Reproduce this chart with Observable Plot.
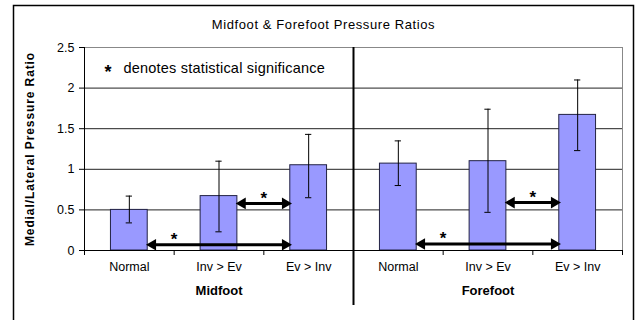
<!DOCTYPE html>
<html><head><meta charset="utf-8">
<script src="https://cdn.jsdelivr.net/npm/d3@7"></script>
<script src="https://cdn.jsdelivr.net/npm/@observablehq/plot@0.6"></script>
<style>body{margin:0;background:#fff}</style>
</head><body><div id="chart"></div>
<script>
const title = "Midfoot & Forefoot Pressure Ratios";
const yLabel = "Medial/Lateral Pressure Ratio";
const legendText = "denotes statistical significance";
const groups = ["Midfoot", "Forefoot"];
const categories = ["Normal", "Inv > Ev", "Ev > Inv"];
const means   = [0.50, 0.67, 1.05, 1.07, 1.10, 1.67];
const errLow  = [0.34, 0.23, 0.65, 0.80, 0.47, 1.23];
const errHigh = [0.67, 1.10, 1.43, 1.35, 1.74, 2.10];
const yTicks = [0, 0.5, 1, 1.5, 2, 2.5];
// significance comparisons: bar index from -> to, arrow level, star position (category units)
const compFrom = [0, 1, 3, 4];
const compTo   = [2, 2, 5, 5];
const compY    = [0.07, 0.58, 0.08, 0.59];
const compStar = [1.0, 2.0, 4.0, 5.0];

const halfW = 0.205, capHalf = 0.035;
const rows = means.map((m, i) => ({
  i, group: groups[Math.floor(i / categories.length)], cat: categories[i % categories.length],
  mean: m, lo: errLow[i], hi: errHigh[i]
}));
const comps = compFrom.map((f, k) => ({
  x1: f + 0.5 + halfW, x2: compTo[k] + 0.5 - halfW, y: compY[k], star: compStar[k]
}));
const nCat = rows.length;
const groupCenters = groups.map((g, j) => ({g, x: (j + 0.5) * categories.length}));

const font = "'Liberation Sans', Arial, sans-serif";
const chart = Plot.plot({
  width: 637, height: 320,
  marginLeft: 84, marginRight: 15, marginTop: 47, marginBottom: 70,
  style: {fontFamily: font, fontSize: "12px", color: "black", background: "white"},
  x: {type: "linear", domain: [0, nCat], axis: null},
  y: {domain: [0, 2.5], axis: null},
  marks: [
    Plot.frame({stroke: "black", strokeWidth: 1.5, insetLeft: -71, insetTop: -42, insetRight: -11, insetBottom: -80}),
    Plot.ruleY(yTicks.filter(t => t > 0 && t < 2.5), {stroke: "#222", strokeWidth: 1}),
    Plot.frame({stroke: "#888"}),
    Plot.rectY(rows, {x1: d => d.i + 0.5 - halfW, x2: d => d.i + 0.5 + halfW, y1: 0, y2: "mean",
      fill: "#9999ff", stroke: "#222244", strokeWidth: 1}),
    Plot.ruleX(rows, {x: d => d.i + 0.5, y1: "lo", y2: "hi", stroke: "black", strokeWidth: 1}),
    Plot.ruleY(rows, {y: "hi", x1: d => d.i + 0.5 - capHalf, x2: d => d.i + 0.5 + capHalf, stroke: "black"}),
    Plot.ruleY(rows, {y: "lo", x1: d => d.i + 0.5 - capHalf, x2: d => d.i + 0.5 + capHalf, stroke: "black"}),
    Plot.ruleY(comps, {y: "y", x1: "x1", x2: "x2", stroke: "black", strokeWidth: 3, insetLeft: 7, insetRight: 7}),
    Plot.dot(comps, {x: "x1", y: "y", symbol: "triangle", rotate: -90, r: 4.3, fill: "black", stroke: "none", dx: 5}),
    Plot.dot(comps, {x: "x2", y: "y", symbol: "triangle", rotate: 90, r: 4.3, fill: "black", stroke: "none", dx: -5}),
    Plot.text(comps, {x: "star", y: "y", text: () => "*", fontSize: 17, fontWeight: "bold", dy: -5}),
    Plot.ruleY([0], {stroke: "black"}),
    Plot.ruleX([0], {stroke: "black"}),
    Plot.ruleX([categories.length], {stroke: "black", strokeWidth: 2, insetBottom: -55}),
    Plot.axisY(yTicks, {anchor: "left", tickSize: 5, tickPadding: 5, tickFormat: d => String(d), fontSize: 12.5, label: null}),
    Plot.axisX(d3.range(nCat + 1), {anchor: "bottom", tickSize: 5, tickFormat: () => "", label: null}),
    Plot.text(rows, {x: d => d.i + 0.5, text: "cat", frameAnchor: "bottom", dy: 20, fontSize: 12.5}),
    Plot.text(groupCenters, {x: "x", text: "g", frameAnchor: "bottom", dy: 44, fontSize: 13, fontWeight: "bold"}),
    Plot.text([title], {frameAnchor: "top", dx: -30, dy: -28, fontSize: 13}),
    Plot.text(["*"], {frameAnchor: "top-left", dx: 20, dy: 18, fontSize: 18, fontWeight: "bold"}),
    Plot.text([legendText], {frameAnchor: "top-left", dx: 39, dy: 15, fontSize: 14.5, textAnchor: "start"}),
    Plot.text([yLabel], {frameAnchor: "left", dx: -54, rotate: -90, fontSize: 12, fontWeight: "bold", textAnchor: "middle"})
  ]
});
// letter spacing to mimic the wider text of the original
const spacing = new Map([[yLabel, 0.9], [title, 0.6], [legendText, 0.2]]);
d3.select(chart).selectAll("text").each(function () {
  const s = spacing.get(this.textContent);
  if (s != null) this.setAttribute("letter-spacing", s);
});
document.getElementById("chart").append(chart);
</script>
</body></html>
